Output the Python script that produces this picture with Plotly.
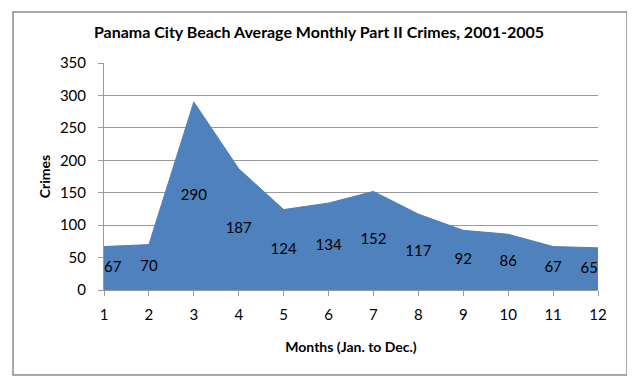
import plotly.graph_objects as go

months = [1, 2, 3, 4, 5, 6, 7, 8, 9, 10, 11, 12]
crimes = [67, 70, 290, 187, 124, 134, 152, 117, 92, 86, 67, 65]
x_ticks = [str(m) for m in months]
y_ticks = [0, 50, 100, 150, 200, 250, 300, 350]

FONT = "Lato, Open Sans, sans-serif"
BLUE = "#4F81BD"
GRAY = "#9a9a9a"
OFF = 8  # page body margin offset

label_pos = ["middle right"] + ["middle center"] * (len(months) - 2) + ["middle left"]

fig = go.Figure()
fig.add_trace(go.Scatter(
    x=months, y=crimes, mode="lines", fill="tozeroy",
    fillcolor=BLUE, line=dict(color=BLUE, width=1), hoverinfo="x+y",
))
fig.add_trace(go.Scatter(
    x=months, y=[v / 2 for v in crimes], mode="text",
    text=[str(v) for v in crimes], textposition=label_pos,
    textfont=dict(family=FONT, size=15, color="black"), hoverinfo="skip",
))

W, H = 635 - OFF, 390 - OFF
L, T = 104 - OFF, 63 - OFF
fig.update_layout(
    width=W, height=H,
    margin=dict(l=L, r=W - (598 - OFF), t=T, b=H - (290 - OFF)),
    paper_bgcolor="white", plot_bgcolor="white",
    showlegend=False,
    title=dict(text="<b>Panama City Beach Average Monthly Part II Crimes, 2001-2005</b>",
               x=(319 - OFF) / W, xanchor="center", y=1 - (32 - OFF) / H, yanchor="middle",
               font=dict(family=FONT, size=16, color="black")),
    xaxis=dict(range=[1, 12], tickvals=months, ticktext=x_ticks,
               showgrid=False, zeroline=False, showline=True, linecolor=GRAY,
               ticks="outside", ticklen=5, tickcolor=GRAY, ticklabelstandoff=6,
               tickfont=dict(family=FONT, size=15, color="black"),
               title=dict(text="<b>Months (Jan. to Dec.)</b>", standoff=20,
                          font=dict(family=FONT, size=14, color="black"))),
    yaxis=dict(range=[0, 350], tickvals=y_ticks,
               showgrid=True, gridcolor=GRAY, gridwidth=1, zeroline=False,
               showline=True, linecolor=GRAY,
               ticks="outside", ticklen=5, tickcolor=GRAY, ticklabelstandoff=9,
               tickfont=dict(family=FONT, size=15, color="black"),
               title=dict(text="<b>Crimes</b>", standoff=5,
                          font=dict(family=FONT, size=14, color="black"))),
    shapes=[dict(type="rect", xref="paper", yref="paper",
                 x0=(13 - 104) / 494, x1=(627 - 104) / 494,
                 y0=-(375 - 290) / 227, y1=1 + (63 - 12) / 227,
                 line=dict(color="#8c8c8c", width=1.5), layer="below")],
)

fig.write_html("out.html")
